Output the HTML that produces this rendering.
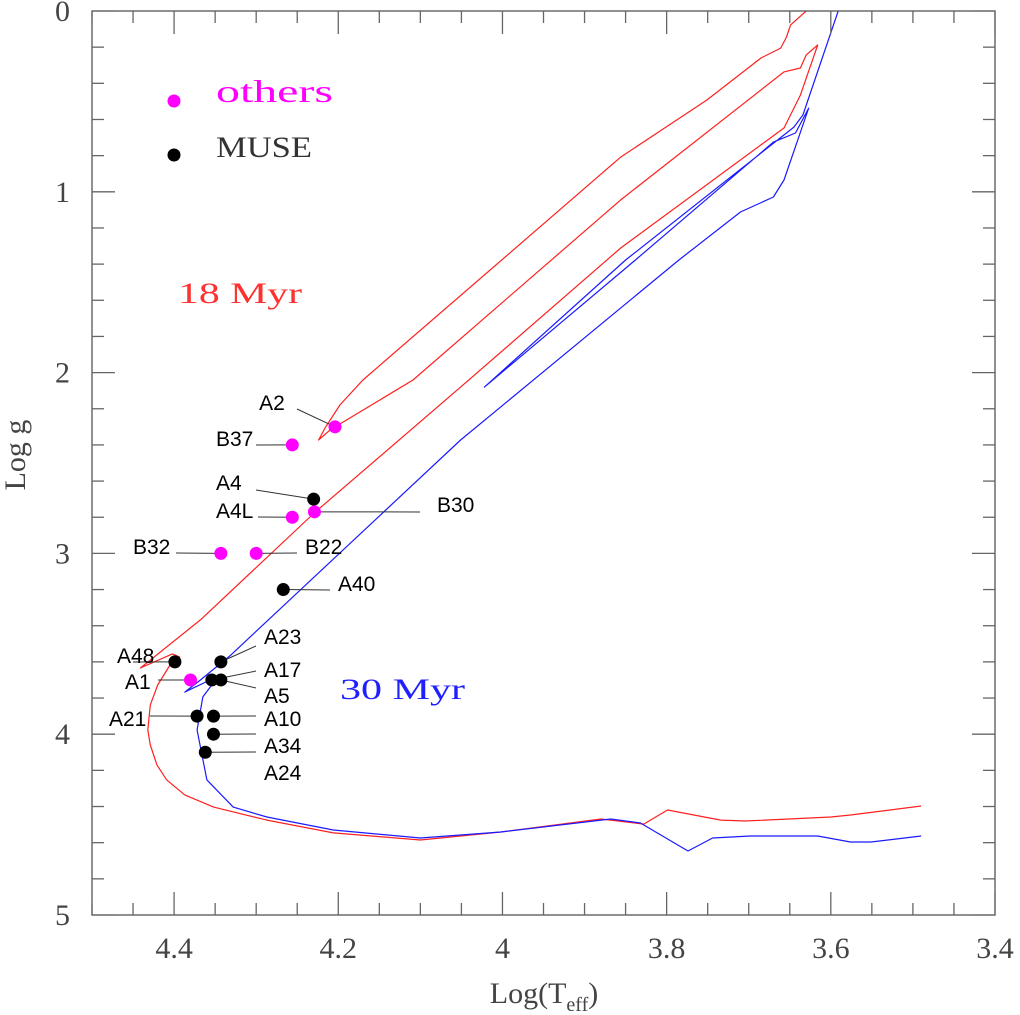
<!DOCTYPE html>
<html><head><meta charset="utf-8">
<style>
html,body{margin:0;padding:0;background:#fff;}
svg{display:block;}
</style></head>
<body>
<svg id="chart" width="1020" height="1015" viewBox="0 0 1020 1015" xmlns="http://www.w3.org/2000/svg">
<defs><clipPath id="plotclip"><rect x="92" y="11" width="903" height="904"/></clipPath></defs>
<g id="curves" clip-path="url(#plotclip)"></g>
<g id="axes"></g>
<g id="marks"></g>
</svg>
<script>
// ---- data ----
const xTicks = [4.4, 4.2, 4.0, 3.8, 3.6, 3.4];
const xTickLabels = ["4.4", "4.2", "4", "3.8", "3.6", "3.4"];
const yTicks = [0, 1, 2, 3, 4, 5];
const yTickLabels = ["0", "1", "2", "3", "4", "5"];

const iso18Teff = [3.490,3.576,3.600,3.704,3.734,3.799,3.828,3.880,4.002,4.100,4.206,4.287,4.352,4.387,4.409,4.421,4.429,4.432,4.429,4.420,4.405,4.393,4.402,4.441,4.368,4.228,4.051,3.856,3.657,3.637,3.616,3.630,3.637,3.657,3.856,4.109,4.210,4.224,4.216,4.198,4.170,3.856,3.751,3.685,3.661,3.654,3.649,3.630];
const iso18Logg = [4.397,4.447,4.458,4.480,4.475,4.419,4.497,4.469,4.541,4.585,4.546,4.475,4.403,4.336,4.253,4.170,4.060,3.977,3.838,3.728,3.617,3.573,3.556,3.634,3.368,2.771,2.080,1.311,0.647,0.465,0.188,0.243,0.315,0.337,1.045,2.041,2.317,2.373,2.306,2.179,2.041,0.808,0.492,0.260,0.205,0.144,0.077,0.0];

const iso30Teff = [3.490,3.551,3.576,3.616,3.698,3.744,3.774,3.832,3.868,4.002,4.100,4.206,4.287,4.328,4.360,4.368,4.372,4.365,4.346,4.387,4.368,4.332,4.051,3.785,3.710,3.670,3.657,3.627,3.643,3.670,3.838,4.022,3.850,3.645,3.634,3.591];
const iso30Logg = [4.563,4.596,4.596,4.563,4.563,4.574,4.646,4.491,4.469,4.541,4.574,4.530,4.458,4.403,4.253,4.071,3.977,3.794,3.678,3.767,3.700,3.567,2.373,1.377,1.112,1.029,0.935,0.537,0.675,0.725,1.377,2.080,1.377,0.642,0.575,0.0];

const starNames = ["A2","B37","A4","A4L","B30","B32","B22","A40","A23","A48","A1","A17","A5","A21","A10","A34","A24"];
const starTeff  = [4.204,4.256,4.230,4.256,4.229,4.343,4.300,4.267,4.343,4.399,4.380,4.354,4.343,4.372,4.352,4.352,4.362];
const starLogg  = [2.30,2.40,2.70,2.80,2.77,3.00,3.00,3.20,3.60,3.60,3.70,3.70,3.70,3.90,3.90,4.00,4.10];
const starGroup = ["others","others","MUSE","others","others","others","others","MUSE","MUSE","MUSE","others","MUSE","MUSE","MUSE","MUSE","MUSE","MUSE"];

// ---- layout ----
const L=92, R=995, T=11, B=915;
const X0=4.5, X1=3.4, Y0=0, Y1=5;
const xs = v => L + (X0 - v) / (X0 - X1) * (R - L);
const ys = v => T + (v - Y0) / (Y1 - Y0) * (B - T);
const NS="http://www.w3.org/2000/svg";
function mk(tag, parent){const e=document.createElementNS(NS,tag);parent.appendChild(e);return e;}
const axes=document.getElementById('axes'), curves=document.getElementById('curves'), marks=document.getElementById('marks');

const frame=mk('rect',axes);


frame.setAttribute('x',L);frame.setAttribute('y',T);frame.setAttribute('width',R-L);frame.setAttribute('height',B-T);
frame.setAttribute('fill','none');frame.setAttribute('stroke','#555');frame.setAttribute('stroke-width','1.3');

const tickColor='#666';
function line(p,x1,y1,x2,y2,c,w){const l=mk('line',p);l.setAttribute('x1',x1);l.setAttribute('y1',y1);l.setAttribute('x2',x2);l.setAttribute('y2',y2);l.setAttribute('stroke',c);l.setAttribute('stroke-width',w);return l;}
for(let i=0;i<=22;i++){
  const v=4.5-i*0.05; const x=xs(v); const major=(i%4===2);
  const len=major?23:12;
  const t1=line(axes,x,B,x,B-len,tickColor,1.3);
  
  
  const t2=line(axes,x,T,x,T+len,tickColor,1.3);
  
  
}
for(let i=0;i<=25;i++){
  const v=i*0.2; const y=ys(v); const major=(i%5===0);
  const len=major?23:12;
  const t1=line(axes,L,y,L+len,y,tickColor,1.3);
  
  
  const t2=line(axes,R,y,R-len,y,tickColor,1.3);
  
  
}
function text(p,x,y,str,size,color,anchor,family){const t=mk('text',p);t.setAttribute('x',x);t.setAttribute('y',y);t.textContent=str;t.setAttribute('font-size',size);t.setAttribute('fill',color);t.setAttribute('text-anchor',anchor||'start');t.setAttribute('font-family',family||'"Liberation Serif", serif');return t;}
xTicks.forEach((v,i)=>{
  const t=text(axes,xs(v),958,xTickLabels[i],30,'#444','middle');
  
  
});
yTicks.forEach((v,i)=>{
  const t=text(axes,70,ys(v)+10,yTickLabels[i],30,'#444','end');
  
  
});
const xt=mk('text',axes);


xt.setAttribute('x',544);xt.setAttribute('y',1003);xt.setAttribute('text-anchor','middle');
xt.setAttribute('font-family','"Liberation Serif", serif');xt.setAttribute('font-size','30');xt.setAttribute('fill','#444');
xt.innerHTML='Log(T<tspan font-size="20" dy="8">eff</tspan><tspan dy="-8">)</tspan>';
const yt=text(axes,0,0,'Log g',30,'#444','middle');


yt.setAttribute('transform','translate(25,455) rotate(-90)');

function poly(xa,ya,color,name){
  const p=mk('polyline',curves);
  
  
  p.setAttribute('points',xa.map((v,i)=>xs(v).toFixed(1)+','+ys(ya[i]).toFixed(1)).join(' '));
  p.setAttribute('fill','none');p.setAttribute('stroke',color);p.setAttribute('stroke-width','1.2');p.setAttribute('stroke-linejoin','round');
}
poly(iso18Teff,iso18Logg,'#ff2020','isochrone-18-myr');
poly(iso30Teff,iso30Logg,'#1a1aff','isochrone-30-myr');

const labelLayout={
 A2:{lx:272,ly:410,anchor:'middle',l:[297,409]},
 B37:{lx:216,ly:446,anchor:'start',l:[256,445]},
 A4:{lx:216,ly:490,anchor:'start',l:[256,490]},
 A4L:{lx:216,ly:518,anchor:'start',l:[258,517]},
 B30:{lx:437,ly:512,anchor:'start',l:[420,512]},
 B32:{lx:133,ly:554,anchor:'start',l:[176,553]},
 B22:{lx:305,ly:554,anchor:'start',l:[297,553]},
 A40:{lx:338,ly:591,anchor:'start',l:[330,590]},
 A23:{lx:264,ly:644,anchor:'start',l:[256,646]},
 A48:{lx:117,ly:663,anchor:'start',l:[133,662]},
 A1:{lx:125,ly:689,anchor:'start',l:[158,680]},
 A17:{lx:264,ly:677,anchor:'start',l:[256,671]},
 A5:{lx:264,ly:703,anchor:'start',l:[256,688]},
 A21:{lx:109,ly:726,anchor:'start',l:[150,716]},
 A10:{lx:264,ly:726,anchor:'start',l:[256,716]},
 A34:{lx:264,ly:753,anchor:'start',l:[256,734]},
 A24:{lx:264,ly:780,anchor:'start',l:[256,752]}
};
starNames.forEach((n,i)=>{
  const cx=xs(starTeff[i]), cy=ys(starLogg[i]); const lay=labelLayout[n];
  const ln=line(marks,lay.l[0],lay.l[1],cx,cy,'#333',1);
  
  
  const t=text(marks,lay.lx,lay.ly,n,21,'#000',lay.anchor,'"Liberation Sans", sans-serif');
  
  
});
starNames.forEach((n,i)=>{
  const c=mk('circle',marks);
  
  
  c.setAttribute('cx',xs(starTeff[i]));c.setAttribute('cy',ys(starLogg[i]));c.setAttribute('r',6.5);
  c.setAttribute('fill',starGroup[i]==='MUSE'?'#000':'#ff00ff');
});

function fitText(t,w){t.setAttribute('textLength',w);t.setAttribute('lengthAdjust','spacingAndGlyphs');}
const lg=mk('g',axes);


const c1=mk('circle',lg);


c1.setAttribute('cx',174);c1.setAttribute('cy',101);c1.setAttribute('r',6.5);c1.setAttribute('fill','#ff00ff');
const l1=text(lg,216,102,'others',32,'#ff00ff','start');
fitText(l1,117);


const c2=mk('circle',lg);


c2.setAttribute('cx',174);c2.setAttribute('cy',155);c2.setAttribute('r',6.5);c2.setAttribute('fill','#000');
const l2=text(lg,216,157,'MUSE',30,'#333','start');
fitText(l2,96);



const a18=text(axes,178,303,'18 Myr',30,'#ff3030','start');
fitText(a18,124);


const a30=text(axes,340,699,'30 Myr',30,'#2020ff','start');
fitText(a30,125);


</script>
</body></html>
